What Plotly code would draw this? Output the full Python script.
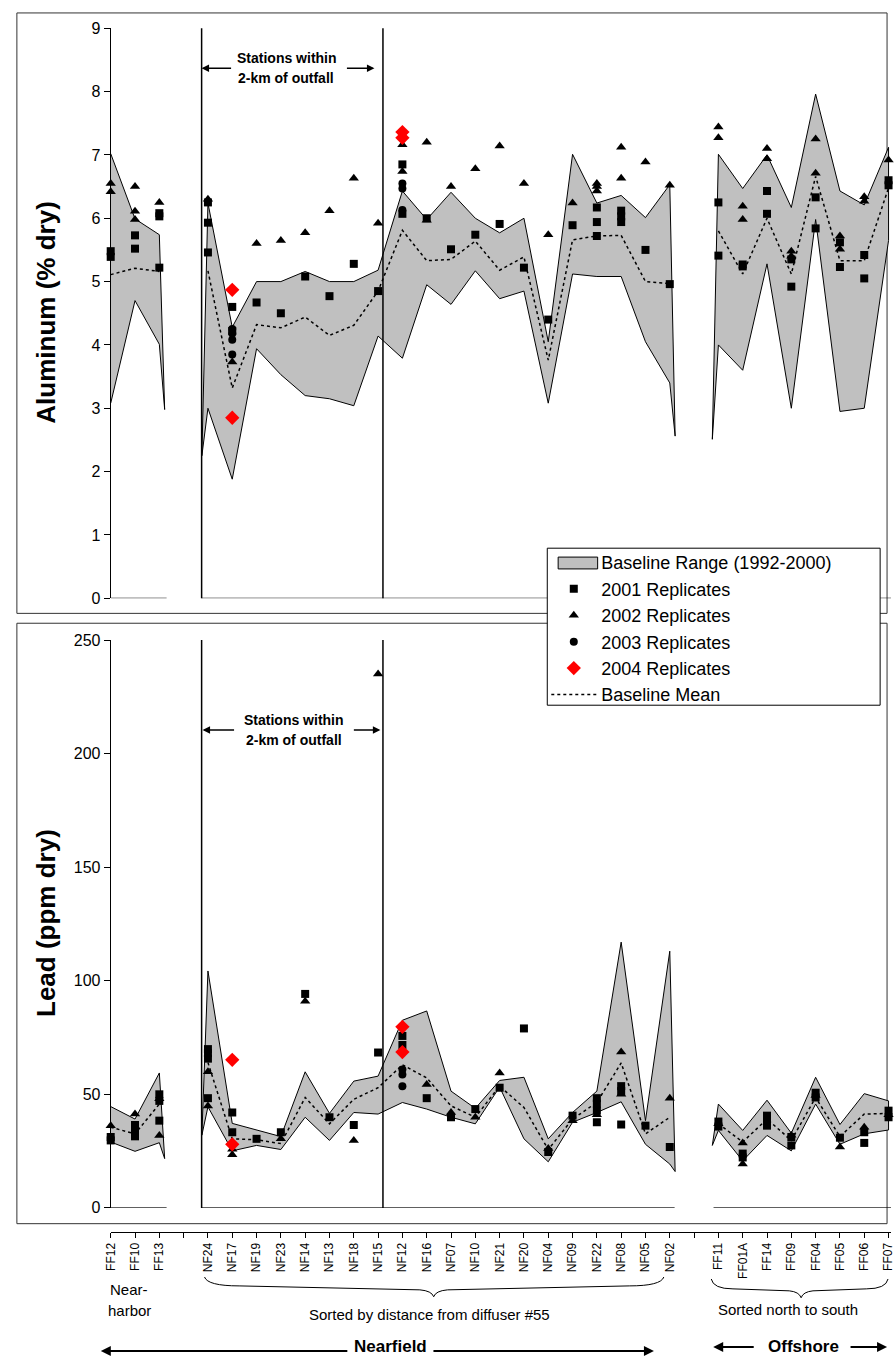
import plotly.graph_objects as go

W, H = 895, 1366
FONT = "Arial, 'Liberation Sans', Helvetica, sans-serif"

# ---------------- categories ----------------
nearharbor = ["FF12", "FF10", "FF13"]
nearfield = ["NF24", "NF17", "NF19", "NF23", "NF14", "NF13", "NF18", "NF15", "NF12", "NF16",
             "NF07", "NF10", "NF21", "NF20", "NF04", "NF09", "NF22", "NF08", "NF05", "NF02"]
offshore = ["FF11", "FF01A", "FF14", "FF09", "FF04", "FF05", "FF06", "FF07"]
groups = [nearharbor, nearfield, offshore]
tick_labels = nearharbor + [""] + nearfield + [""] + offshore
stations = nearharbor + nearfield + offshore
pos = {s: tick_labels.index(s) for s in stations}

# ---------------- Aluminum (% dry) ----------------
al_upper = [7.02, 5.99, 5.74,
            6.24, 4.28, 5.00, 5.00, 5.16, 5.00, 5.00, 5.18, 6.43, 5.98, 6.41, 6.00, 5.77, 6.00,
            4.05, 7.01, 6.24, 6.36, 6.01, 6.53,
            7.01, 6.47, 7.00, 6.17, 7.96, 6.43, 6.21, 7.12]
al_lower = [3.08, 4.70, 4.01,
            3.00, 1.88, 3.94, 3.53, 3.20, 3.15, 3.04, 4.14, 3.79, 4.95, 4.64, 5.17, 4.73, 4.85,
            3.08, 5.12, 5.08, 5.08, 4.05, 3.40,
            4.00, 3.60, 5.28, 3.00, 5.98, 2.95, 3.00, 5.65]
al_mean = [5.11, 5.21, 5.16,
           5.17, 3.32, 4.32, 4.27, 4.44, 4.15, 4.31, 4.85, 5.81, 5.33, 5.35, 5.64, 5.18, 5.39,
           3.76, 5.66, 5.72, 5.73, 5.00, 4.97,
           5.80, 5.12, 6.00, 5.12, 6.66, 5.33, 5.33, 6.48]
al_edge_start = [None, 2.25, 2.51]
al_edge_end = [2.98, 2.56, None]

al_2001 = {"FF12": [5.48, 5.39], "FF10": [5.73, 5.52], "FF13": [6.08, 6.03, 5.22],
           "NF24": [6.25, 5.93, 5.46], "NF17": [4.60, 4.22], "NF19": [4.67], "NF23": [4.50],
           "NF14": [5.08], "NF13": [4.77], "NF18": [5.28], "NF15": [4.85],
           "NF12": [6.85, 6.07], "NF16": [6.00], "NF07": [5.51], "NF10": [5.74], "NF21": [5.91],
           "NF20": [5.22], "NF04": [4.40], "NF09": [5.89], "NF22": [6.17, 5.94, 5.72],
           "NF08": [6.12, 6.03, 5.94], "NF05": [5.50], "NF02": [4.96],
           "FF11": [6.25, 5.41], "FF01A": [5.27, 5.24], "FF14": [6.43, 6.07], "FF09": [5.35, 4.92],
           "FF04": [6.33, 5.84], "FF05": [5.62, 5.23], "FF06": [5.42, 5.05], "FF07": [6.60, 6.52]}
al_2002 = {"FF12": [6.55, 6.42], "FF10": [6.50, 6.11, 5.98], "FF13": [6.25],
           "NF24": [6.30], "NF17": [3.73], "NF19": [5.60], "NF23": [5.65], "NF14": [5.77],
           "NF13": [6.12], "NF18": [6.63], "NF15": [5.92],
           "NF12": [7.16, 6.74], "NF16": [7.20, 5.97], "NF07": [6.50], "NF10": [6.78], "NF21": [7.14],
           "NF20": [6.55], "NF04": [5.74], "NF09": [6.24], "NF22": [6.55, 6.50, 6.43],
           "NF08": [7.12, 6.63], "NF05": [6.89], "NF02": [6.52],
           "FF11": [7.44, 7.27], "FF01A": [6.19, 5.98], "FF14": [7.10, 6.94], "FF09": [5.48, 5.40],
           "FF04": [7.25, 6.71], "FF05": [5.72, 5.51], "FF06": [6.34, 6.27], "FF07": [6.92]}
al_2003 = {"NF17": [4.25, 4.18, 4.08, 3.85], "NF12": [6.55, 6.47, 6.13]}
al_2004 = {"NF17": [4.87, 2.85], "NF12": [7.36, 7.27]}

# ---------------- Lead (ppm dry) ----------------
pb_upper = [44.6, 39.1, 59.4,
            104.3, 37.2, 34.3, 31.4, 59.9, 41.6, 55.8, 58.0, 82.6, 86.7, 51.4, 43.8, 56.1, 57.5,
            30.4, 42.0, 51.4, 117.0, 38.4, 113.0,
            45.7, 34.1, 47.4, 32.9, 57.5, 36.7, 50.3, 47.1]
pb_lower = [29.0, 24.9, 28.7,
            44.5, 25.1, 27.5, 25.7, 39.9, 29.7, 42.0, 41.3, 46.4, 43.5, 39.9, 37.0, 53.2, 30.4,
            20.3, 37.7, 42.0, 46.7, 28.0, 19.3,
            34.1, 20.7, 31.9, 25.1, 45.7, 28.0, 32.6, 34.3]
pb_mean = [35.5, 32.6, 45.7,
           64.0, 30.4, 30.0, 28.3, 48.6, 37.0, 47.8, 52.9, 63.0, 57.2, 44.9, 39.9, 53.6, 44.2,
           25.7, 39.1, 46.4, 63.8, 32.6, 39.9,
           37.0, 29.0, 39.1, 29.7, 48.6, 31.4, 41.3, 41.6]
pb_edge_start = [None, 32.0, 27.5]
pb_edge_end = [21.7, 16.0, None]

pb_2001 = {"FF12": [31.2, 29.7], "FF10": [36.5, 34.0, 31.5], "FF13": [50.0, 47.1, 38.4],
           "NF24": [69.9, 68.1, 65.7, 48.3], "NF17": [42.0, 33.3], "NF19": [30.4], "NF23": [33.3],
           "NF14": [94.2], "NF13": [39.9], "NF18": [36.5], "NF15": [68.4],
           "NF12": [75.7, 71.7], "NF16": [48.3], "NF07": [39.9], "NF10": [43.5], "NF21": [52.9],
           "NF20": [79.0], "NF04": [24.6], "NF09": [40.6], "NF22": [48.3, 45.9, 42.8, 37.7],
           "NF08": [53.6, 51.4, 36.7], "NF05": [36.2], "NF02": [26.8],
           "FF11": [38.0, 35.8], "FF01A": [23.9, 22.2], "FF14": [40.6, 38.4, 36.2],
           "FF09": [31.2, 27.5], "FF04": [50.7, 48.6], "FF05": [30.9], "FF06": [33.3, 28.6],
           "FF07": [42.8, 39.9]}
pb_2002 = {"FF12": [36.2], "FF10": [41.3], "FF13": [48.0, 31.9],
           "NF24": [59.9, 44.9], "NF17": [25.8, 23.4], "NF23": [30.4], "NF14": [91.0],
           "NF18": [29.7], "NF15": [235.0],
           "NF16": [54.3], "NF07": [42.0], "NF10": [39.9], "NF21": [59.4], "NF04": [26.1],
           "NF09": [38.4], "NF22": [41.0], "NF08": [68.6, 50.0], "NF02": [48.3],
           "FF11": [37.0], "FF01A": [28.6, 19.3], "FF09": [32.0], "FF04": [49.5], "FF05": [26.8],
           "FF06": [35.5], "FF07": [41.0]}
pb_2003 = {"NF12": [60.9, 58.7, 53.6]}
pb_2004 = {"NF17": [65.2, 28.0], "NF12": [79.7, 68.6]}

# ---------------- helpers ----------------
def fx(p):  # pixel x -> paper
    return p / W


def fy(p):  # pixel y -> paper
    return 1 - p / H


def band_xy(upper, lower, edge_start, edge_end, d_start=0.25, d_end=0.22):
    xs, ys = [], []
    i = 0
    for g, grp in enumerate(groups):
        up = upper[i:i + len(grp)]
        lo = lower[i:i + len(grp)]
        gx = [pos[s] for s in grp]
        bx, by = [], []
        es, ee = edge_start[g], edge_end[g]
        if es is not None:
            bx.append(gx[0] - d_start); by.append(es)
        bx += gx; by += up
        if ee is not None:
            bx.append(gx[-1] + d_end); by.append(ee)
        bx += gx[::-1]; by += lo[::-1]
        if es is not None:
            bx.append(gx[0] - d_start); by.append(es)
        xs += bx + [None]
        ys += by + [None]
        i += len(grp)
    return xs, ys


def mean_xy(mean):
    xs, ys = [], []
    i = 0
    for grp in groups:
        xs += [pos[s] for s in grp] + [None]
        ys += mean[i:i + len(grp)] + [None]
        i += len(grp)
    return xs, ys


def flat(d):
    xs, ys = [], []
    for s, vals in d.items():
        for v in vals:
            xs.append(pos[s]); ys.append(v)
    return xs, ys


fig = go.Figure()

# legend-only entry for the range band (its swatch is drawn as a shape)
fig.add_trace(go.Scatter(x=[None], y=[None], mode="markers",
                         marker=dict(size=1, color="rgba(0,0,0,0)"),
                         name="Baseline Range (1992-2000)", legendrank=1, showlegend=True))


def add_panel(xa, ya, upper, lower, mean, es, ee, reps, show):
    bx, by = band_xy(upper, lower, es, ee)
    fig.add_trace(go.Scatter(x=bx, y=by, xaxis=xa, yaxis=ya, mode="lines", fill="toself",
                             fillcolor="#C0C0C0", line=dict(color="black", width=1),
                             name="Baseline Range (1992-2000)", showlegend=False,
                             hoverinfo="skip"))
    mx, my = mean_xy(mean)
    fig.add_trace(go.Scatter(x=mx, y=my, xaxis=xa, yaxis=ya, mode="lines",
                             line=dict(color="black", width=1.5, dash="dot"),
                             name="Baseline Mean", legendrank=6, showlegend=show))
    # axis-level baseline segments
    zx = [0, 2.3, None, 3.74, 23.2, None, 24.8, 32.1]
    fig.add_trace(go.Scatter(x=zx, y=[0 if v is not None else None for v in zx], xaxis=xa,
                             yaxis=ya, mode="lines", line=dict(color="black", width=1),
                             showlegend=False, hoverinfo="skip", cliponaxis=False))
    styles = [("2001 Replicates", "square", 8, "black", 2),
              ("2002 Replicates", "triangle-up", 9, "black", 3),
              ("2003 Replicates", "circle", 8, "black", 4),
              ("2004 Replicates", "diamond", 11, "#FF0000", 5)]
    for (name, sym, size, col, rank), d in zip(styles, reps):
        x, y = flat(d)
        fig.add_trace(go.Scatter(x=x, y=y, xaxis=xa, yaxis=ya, mode="markers",
                                 marker=dict(symbol=sym, size=size, color=col, line=dict(width=0)),
                                 name=name, legendrank=rank, showlegend=show, cliponaxis=False))


add_panel("x", "y", al_upper, al_lower, al_mean, al_edge_start, al_edge_end,
          [al_2001, al_2002, al_2003, al_2004], True)
add_panel("x2", "y2", pb_upper, pb_lower, pb_mean, pb_edge_start, pb_edge_end,
          [pb_2001, pb_2002, pb_2003, pb_2004], False)

X0 = 105
x_range = [0, (W - X0) / 24.61]
tickfont = dict(family=FONT, size=16, color="black")

shapes = []
# outer boxes
for top, bot in [(5, 613), (623, 1231)]:
    shapes.append(dict(type="rect", xref="paper", yref="paper", x0=fx(10), x1=fx(891),
                       y0=fy(bot), y1=fy(top), line=dict(color="#333333", width=1), layer="below"))
# divider lines for 2-km stations
for xa, ya in [("x", "y"), ("x2", "y2")]:
    for xv in [3.74, 11.2]:
        shapes.append(dict(type="line", xref=xa, yref=ya + " domain", x0=xv, x1=xv, y0=0, y1=1,
                           line=dict(color="black", width=1.5)))


def path(cmds):
    out = []
    for c, pts in cmds:
        out.append(c + " ".join("%.5f,%.5f" % (fx(a), fy(b)) for a, b in pts))
    return " ".join(out)


# braces
shapes.append(dict(type="path", xref="paper", yref="paper", line=dict(color="black", width=1),
                   path=path([("M", [(200, 1285)]), ("Q", [(203, 1294), (235, 1294)]),
                              ("L", [(418, 1298)]), ("Q", [(430, 1299), (432, 1305)]),
                              ("Q", [(434, 1299), (446, 1298)]), ("L", [(630, 1294)]),
                              ("Q", [(662, 1294), (665, 1285)])])))
shapes.append(dict(type="path", xref="paper", yref="paper", line=dict(color="black", width=1),
                   path=path([("M", [(713, 1287)]), ("Q", [(715, 1297), (735, 1297)]),
                              ("L", [(792, 1299)]), ("Q", [(802, 1300), (804, 1306)]),
                              ("Q", [(806, 1300), (816, 1299)]), ("L", [(870, 1297)]),
                              ("Q", [(890, 1297), (892, 1287)])])))
# legend box and its range-band swatch
shapes.append(dict(type="rect", xref="paper", yref="paper", x0=fx(547), x1=fx(884),
                   y0=fy(706), y1=fy(547), fillcolor="white", line=dict(color="black", width=1),
                   layer="above"))
shapes.append(dict(type="rect", xref="paper", yref="paper", x0=fx(558), x1=fx(598),
                   y0=fy(568), y1=fy(556), fillcolor="#C0C0C0", line=dict(color="black", width=1),
                   layer="above"))

ann = []


def text(x, y, t, size, bold=False, angle=0):
    ann.append(dict(x=fx(x), y=fy(y), xref="paper", yref="paper", showarrow=False,
                    text=("<b>%s</b>" % t) if bold else t, textangle=angle,
                    font=dict(family=FONT, size=size, color="black"),
                    xanchor="center", yanchor="middle"))


def arrow(hx, hy, tx, ty, w=1.5):
    ann.append(dict(x=fx(hx), y=fy(hy), xref="paper", yref="paper", text="", showarrow=True,
                    ax=tx - hx, ay=ty - hy, axref="pixel", ayref="pixel", arrowhead=2,
                    arrowsize=1, arrowwidth=w, arrowcolor="black"))


text(40, 309, "Aluminum (% dry)", 26, bold=True, angle=-90)
text(40, 927, "Lead (ppm dry)", 26, bold=True, angle=-90)

text(283, 51, "Stations within", 14, bold=True)
text(282, 71, "2-km of outfall", 14, bold=True)
arrow(197, 61, 228, 61)
arrow(372, 61, 343, 61)

text(291, 721, "Stations within", 14, bold=True)
text(291, 741, "2-km of outfall", 14, bold=True)
arrow(198, 731, 231, 731)
arrow(378, 731, 350, 731)

text(124, 1298, "Near-", 15)
text(124, 1319, "harbor", 15)
text(428, 1323, "Sorted by distance from diffuser #55", 15)
text(791, 1318, "Sorted north to south", 15)
text(388, 1355, "Nearfield", 17, bold=True)
arrow(95, 1360, 343, 1360, 2)
arrow(655, 1360, 433, 1360, 2)
text(806, 1355, "Offshore", 17, bold=True)
arrow(715, 1356, 757, 1356, 2)
arrow(891, 1356, 853, 1356, 2)

fig.update_layout(
    width=W, height=H, margin=dict(l=0, r=0, t=0, b=0),
    paper_bgcolor="white", plot_bgcolor="rgba(0,0,0,0)",
    font=dict(family=FONT, color="black"),
    xaxis=dict(domain=[X0 / W, 1], range=x_range, visible=False, anchor="y"),
    yaxis=dict(domain=[fy(597.7), fy(20.5)], range=[0, 9], dtick=1, anchor="x",
               showline=True, linecolor="black", linewidth=1, ticks="outside", ticklen=6,
               tickcolor="black", tickfont=tickfont, showgrid=False, zeroline=False),
    xaxis2=dict(domain=[X0 / W, 1], range=x_range, anchor="free", position=fy(1239.5),
                tickmode="array", tickvals=list(range(len(tick_labels))), ticktext=tick_labels,
                tickangle=-90, ticks="outside", ticklen=5, tickcolor="black",
                ticklabeloverflow="allow",
                showline=True, linecolor="black", linewidth=1, showgrid=False, zeroline=False,
                tickfont=dict(family=FONT, size=12, color="black")),
    yaxis2=dict(domain=[fy(1215), fy(640)], range=[0, 250], dtick=50, anchor="x2",
                showline=True, linecolor="black", linewidth=1, ticks="outside", ticklen=6,
                tickcolor="black", tickfont=tickfont, showgrid=False, zeroline=False),
    legend=dict(x=fx(546), y=fy(543), xanchor="left", yanchor="top",
                bgcolor="rgba(0,0,0,0)", borderwidth=0, itemwidth=45,
                font=dict(family=FONT, size=18, color="black"), tracegroupgap=0),
    shapes=shapes, annotations=ann, showlegend=True,
)

fig.write_html("out.html")
